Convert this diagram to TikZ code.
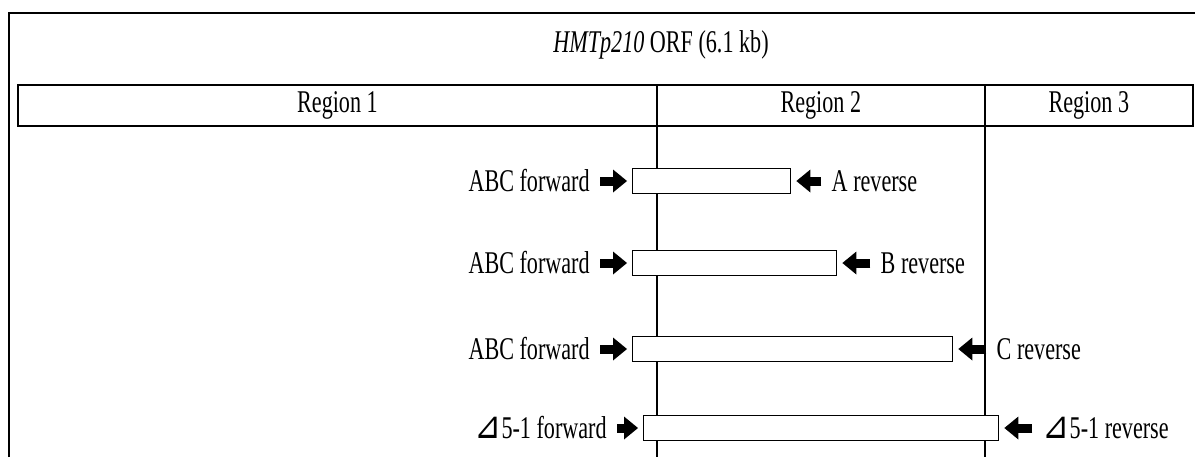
\documentclass[tikz,border=0pt]{standalone}
\usepackage{fontspec}
\setmainfont{Liberation Serif}[FakeStretch=0.7]
\newfontfamily\trifont{DejaVu Sans}[FakeStretch=0.85,Scale=1.2]
\usetikzlibrary{arrows.meta,positioning}

\begin{document}
\begin{tikzpicture}[x=0.02cm, y=-0.02cm,
    font=\fontsize{18}{20}\selectfont,
    cell/.style={draw, line width=1.2pt, minimum height=0.82cm, inner sep=0pt, outer sep=0pt, anchor=west},
    frag/.style={draw, fill=white, line width=0.8pt, minimum height=0.5cm, inner sep=0pt, anchor=west},
    lab/.style={inner sep=0pt},
    primer/.style={-{Triangle[length=0.28cm,width=0.46cm,line width=0pt]}, line width=0.18cm, shorten <=0.2cm, shorten >=0.1cm}
]
\useasboundingbox (0,0) rectangle (1195,457);
\draw[line width=1.7pt] (9,457) |- (1195,13);

\node (ttl) at (661,45) {\textit{HMTp210} ORF (6.1 kb)};
\node[cell, minimum width=12.78cm] (c1) at (18,105.5) {Region 1};
\node[cell, minimum width=6.56cm, right=0pt of c1] (c2) {Region 2};
\node[cell, minimum width=4.16cm, right=0pt of c2] (c3) {Region 3};

\coordinate (bot) at (0,457);
\draw[line width=0.8pt] (c1.south east) -- (c1.south east |- bot);
\draw[line width=0.8pt] (c2.south east) -- (c2.south east |- bot);

\node[frag, minimum width=3.16cm] (b1) at (632,181) {};
\node[frag, minimum width=4.08cm] (b2) at (632,263) {};
\node[frag, minimum width=6.40cm] (b3) at (632,349) {};
\node[frag, minimum width=7.10cm] (b4) at (643,428) {};

\node[lab, left=0.84cm of b1] (f1) {ABC forward};
\node[lab, left=0.84cm of b2] (f2) {ABC forward};
\node[lab, left=0.84cm of b3] (f3) {ABC forward};
\node[lab, left=0.72cm of b4] (f4) {{\trifont ⊿}5-1 forward};
\node[lab, right=0.8cm of b1] (rv1) {A reverse};
\node[lab, right=0.86cm of b2] (rv2) {B reverse};
\node[lab, right=0.86cm of b3] (rv3) {C reverse};
\node[lab, right=0.86cm of b4] (rv4) {{\trifont ⊿}5-1 reverse};

\draw[primer] (f1) -- (b1);
\draw[primer] (f2) -- (b2);
\draw[primer] (f3) -- (b3);
\draw[primer] (f4) -- (b4);
\draw[primer] (rv1) -- (b1);
\draw[primer] (rv2) -- (b2);
\draw[primer] (rv3) -- (b3);
\draw[primer] (rv4) -- (b4);
\end{tikzpicture}
\end{document}
